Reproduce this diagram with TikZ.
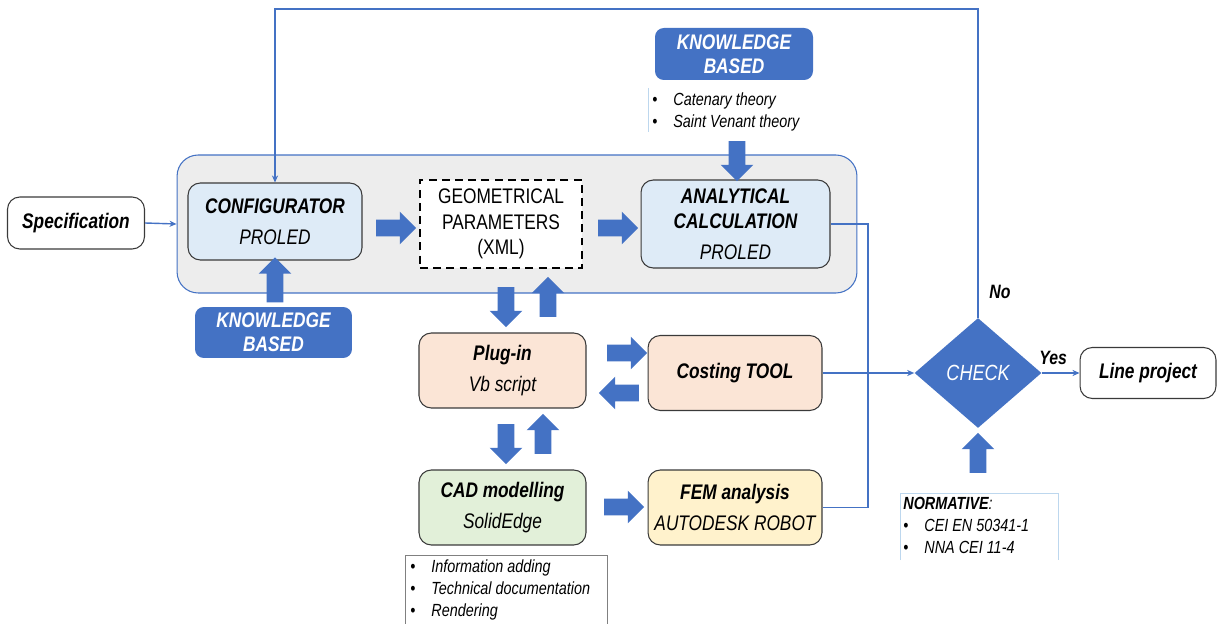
\documentclass[tikz,border=0pt]{standalone}
\usepackage{fontspec}
\setmainfont{Liberation Sans}[FakeStretch=0.82]
\usetikzlibrary{arrows.meta,positioning,shapes.geometric,shapes.arrows}

\definecolor{kbblue}{HTML}{4472C4}
\definecolor{boxline}{HTML}{3A3A3A}
\definecolor{procfill}{HTML}{EDEDED}
\definecolor{toolfill}{HTML}{DEEBF7}
\definecolor{peach}{HTML}{FBE5D6}
\definecolor{mint}{HTML}{E2F0D9}
\definecolor{cream}{HTML}{FFF2CC}
\definecolor{paleblue}{HTML}{BDD7EE}

\tikzset{
  box/.style={draw=boxline, line width=0.6pt, rounded corners=7pt, align=center,
    inner sep=0pt, font=\fontsize{12}{14.4}\selectfont\itshape},
  container/.style={draw=kbblue, line width=0.6pt, fill=procfill, rounded corners=12pt,
    minimum width=13.6cm, minimum height=2.76cm},
  knowledge/.style={fill=kbblue, rounded corners=5pt, text=white, align=center,
    minimum width=3.16cm, minimum height=1.04cm, inner sep=0pt,
    font=\fontsize{12}{13.6}\selectfont\itshape\bfseries},
  bigarrow/.style={single arrow, draw=none, fill=kbblue, inner xsep=0pt, inner ysep=0.16cm,
    single arrow head extend=0.16cm, minimum height=0.8cm},
  flow/.style={draw=kbblue, line width=0.8pt, -{Stealth[length=4pt,width=3.5pt]}},
  link/.style={draw=kbblue, line width=0.8pt},
  notes/.style={align=left, inner sep=0pt, font=\fontsize{10}{12.6}\selectfont\itshape},
  tag/.style={font=\fontsize{11}{13}\selectfont\itshape\bfseries}
}
\newcommand{\dotitem}{\makebox[0.42cm][l]{\textbullet}}

\begin{document}
\begin{tikzpicture}[x=0.02cm,y=-0.02cm]
\useasboundingbox (0,0) rectangle (1222,624);

\node[container] (proc) at (517,224) {};

\node[box, minimum width=2.74cm, minimum height=1.04cm] (spec) at (76,223) {\textbf{Specification}};
\node[box, fill=toolfill, minimum width=3.48cm, minimum height=1.54cm] (conf) at (275,221.5)
  {\textbf{CONFIGURATOR}\\[3pt]PROLED};
\node[draw=black, line width=1.1pt, dash pattern=on 4.5pt off 3pt, fill=white, align=center,
  minimum width=3.24cm, minimum height=1.76cm, inner sep=0pt, font=\fontsize{12}{14.5}\selectfont]
  (geom) at (501,224) {GEOMETRICAL\\PARAMETERS\\(XML)};
\node[box, fill=toolfill, minimum width=3.78cm, minimum height=1.76cm] (calc) at (735.5,224)
  {\textbf{ANALYTICAL}\\\textbf{CALCULATION}\\[3pt]PROLED};

\node[knowledge] (kbtop) at (734,54) {KNOWLEDGE\\BASED};
\node[knowledge, minimum width=3.14cm, minimum height=1.02cm] (kbbot) at (273.5,332.5) {KNOWLEDGE\\BASED};

\node[notes, anchor=north west] (theory) at (652,92)
  {\dotitem Catenary theory\\\dotitem Saint Venant theory};
\draw[paleblue, line width=0.4pt] (648,88) -- (648,132);

\node[box, fill=peach, minimum width=3.34cm, minimum height=1.5cm] (plugin) at (502.5,370.5)
  {\textbf{Plug-in}\\[3pt]Vb script};
\node[box, fill=peach, minimum width=3.48cm, minimum height=1.5cm] (cost) at (735,373)
  {\textbf{Costing TOOL}};
\node[box, fill=mint, minimum width=3.34cm, minimum height=1.5cm] (cad) at (502.5,507.5)
  {\textbf{CAD modelling}\\[3pt]SolidEdge};
\node[box, fill=cream, minimum width=3.48cm, minimum height=1.5cm] (fem) at (735,507.5)
  {\textbf{FEM analysis}\\[3pt]AUTODESK ROBOT};

\node[notes, anchor=north west] (extras) at (410,559)
  {\dotitem Information adding\\\dotitem Technical documentation\\\dotitem Rendering};
\draw[gray, line width=0.5pt] (405,624) -- (405,555) -- (607,555) -- (607,624);

\node[diamond, fill=kbblue, minimum width=2.54cm, minimum height=2.2cm, inner sep=0pt,
  text=white, font=\fontsize{12.5}{14}\selectfont\itshape] (check) at (978,373) {CHECK};
\node[box, minimum width=2.72cm, minimum height=1.02cm] (line) at (1148,373) {\textbf{Line project}};

\node[notes, anchor=north west] (norms) at (903,497)
  {\textbf{NORMATIVE}:\\\dotitem CEI EN 50341-1\\\dotitem NNA CEI 11-4};
\draw[paleblue, line width=0.5pt] (900,560) -- (900,493) -- (1058,493) -- (1058,560);

\node[bigarrow] (a1) at (392,228) {};
\node[bigarrow] (a2) at (614,228) {};
\node[bigarrow] (a3) at (623,353) {};
\node[bigarrow, rotate=180] (a4) at (623,393) {};
\node[bigarrow] (a5) at (620,507) {};
\node[bigarrow, rotate=270] (a6) at (737,157) {};
\node[bigarrow, rotate=270] (a7) at (506,303) {};
\node[bigarrow, rotate=90] (a8) at (548,301) {};
\node[bigarrow, rotate=270] (a9) at (506,440) {};
\node[bigarrow, rotate=90] (a10) at (543,438) {};
\node[bigarrow, rotate=90, minimum height=0.9cm] (a11) at (275,284) {};
\node[bigarrow, rotate=90] (a12) at (978,457) {};

\coordinate (loop) at (975,9);
\coordinate (bus) at (868,373);

\draw[flow] (spec.east) -- (proc.west);
\draw[link] (calc.east) -| (bus) |- (fem.east);
\draw[flow] (cost.east) -- (check.west);
\draw[flow] (check.east) -- node[tag, above=1pt, pos=0.3] (yes) {Yes} (line.west);
\draw[flow] (check.north) -- (check.north |- loop) -| (conf.north);
\node[tag] (no) at (1000,292) {No};
\end{tikzpicture}
\end{document}
